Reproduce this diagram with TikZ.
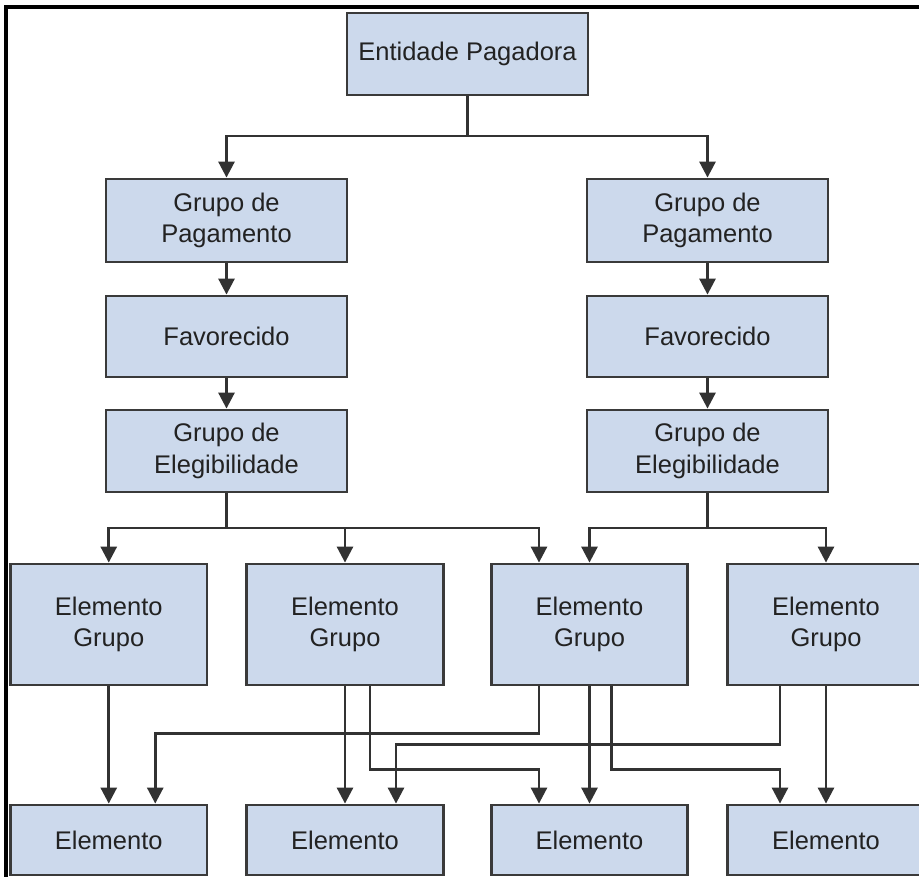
\documentclass[tikz,border=0pt]{standalone}
\usepackage{fontspec}
\setmainfont{Liberation Sans}
\usetikzlibrary{arrows.meta}
\definecolor{boxfill}{RGB}{204,217,236}
\definecolor{boxline}{RGB}{58,58,58}
\definecolor{conncol}{RGB}{50,50,50}
\definecolor{txtcol}{RGB}{34,34,34}
\begin{document}
\begin{tikzpicture}[x=1pt,y=-1pt,
  box/.style={draw=boxline,fill=boxfill,line width=2.8pt,inner sep=0pt,
    align=center,text=txtcol,font=\fontsize{25.5}{31.5}\selectfont},
  wide/.style={box,minimum width=241pt},
  narrow/.style={box,minimum width=196.5pt},
  wire/.style={draw=conncol,line width=2.8pt,line join=miter},
  arrowline/.style={wire,-{Triangle[width=16pt,length=16pt]}}]
\useasboundingbox (0,0) rectangle (919,877);
\begin{scope}
\clip (0,0) rectangle (919,877);
\fill[white] (0,0) rectangle (919,877);
% top level
\node[wide,minimum height=82pt] (ep) at (467.5,54) {Entidade Pagadora};
\node[wide,minimum height=83pt] (gp1) at (226.5,220.5) {Grupo de\\Pagamento};
\node[wide,minimum height=83pt] (gp2) at (707.5,220.5) {Grupo de\\Pagamento};
\node[wide,minimum height=81pt] (fav1) at (226.5,336.5) {Favorecido};
\node[wide,minimum height=81pt] (fav2) at (707.5,336.5) {Favorecido};
\node[wide,minimum height=82pt] (elg1) at (226.5,451) {Grupo de\\Elegibilidade};
\node[wide,minimum height=82pt] (elg2) at (707.5,451) {Grupo de\\Elegibilidade};
% element groups
\node[narrow,minimum height=121pt] (eg1) at (108.75,624.5) {Elemento\\Grupo};
\node[narrow,minimum height=121pt] (eg2) at (345,624.5) {Elemento\\Grupo};
\node[narrow,minimum height=121pt] (eg3) at (589.5,624.5) {Elemento\\Grupo};
\node[narrow,minimum height=121pt] (eg4) at (826,624.5) {Elemento\\Grupo};
% elements
\node[narrow,minimum height=70pt] (el1) at (108.75,840) {Elemento};
\node[narrow,minimum height=70pt] (el2) at (345,840) {Elemento};
\node[narrow,minimum height=70pt] (el3) at (589.5,840) {Elemento};
\node[narrow,minimum height=70pt] (el4) at (826,840) {Elemento};
% connectors, top
\coordinate (b0) at (467.5,136);
\draw[wire] (ep.south) -- (b0);
\draw[arrowline] (b0) -| (gp1.north);
\draw[arrowline] (b0) -| (gp2.north);
\draw[arrowline] (gp1.south) -- (fav1.north);
\draw[arrowline] (gp2.south) -- (fav2.north);
\draw[arrowline] (fav1.south) -- (elg1.north);
\draw[arrowline] (fav2.south) -- (elg2.north);
\coordinate (b1) at (226.5,528);
\coordinate (b2) at (707.5,528);
\draw[wire] (elg1.south) -- (b1);
\draw[wire] (elg2.south) -- (b2);
\draw[arrowline] (b1) -| (eg1.north);
\draw[arrowline] (b1) -| (eg2.north);
\draw[arrowline] (b1) -| ([xshift=-50.5pt]eg3.north);
\draw[arrowline] (b2) -| (eg3.north);
\draw[arrowline] (b2) -| (eg4.north);
% connectors, bottom
\draw[arrowline] (eg1.south) -- (el1.north);
\draw[arrowline] ([xshift=-50.5pt]eg3.south) -- ++(0,47) -| ([xshift=46.5pt]el1.north);
\draw[arrowline] (eg2.south) -- (el2.north);
\draw[arrowline] ([xshift=-46pt]eg4.south) -- ++(0,58) -| ([xshift=51pt]el2.north);
\draw[arrowline] ([xshift=25pt]eg2.south) -- ++(0,83) -| ([xshift=-50.5pt]el3.north);
\draw[arrowline] (eg3.south) -- (el3.north);
\draw[arrowline] ([xshift=22pt]eg3.south) -- ++(0,83) -| ([xshift=-46pt]el4.north);
\draw[arrowline] (eg4.south) -- (el4.north);
% frame
\draw[black,line width=3.2pt,line join=miter] (919,7) -- (6,7) -- (6,877);
\end{scope}
\end{tikzpicture}
\end{document}
